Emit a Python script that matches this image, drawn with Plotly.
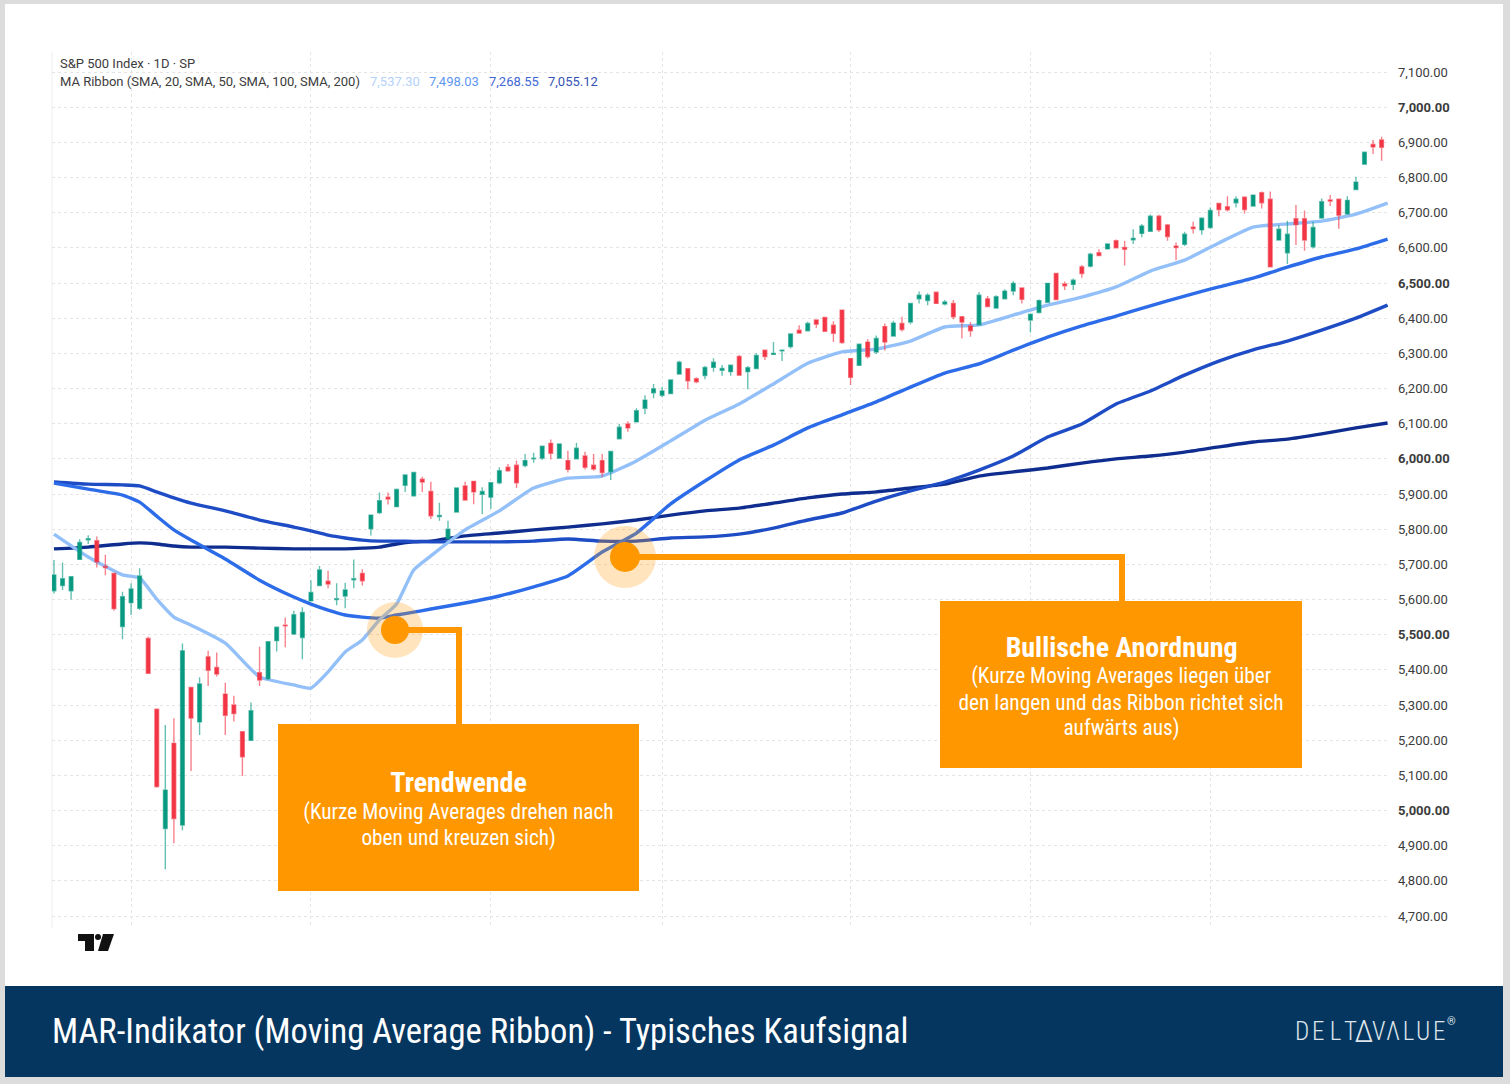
import plotly.graph_objects as go

W = 1510
H = 1084
NARROW = "Roboto, sans-serif"

# candles: open, high, low, close
opens = [5625,5640,5625,5714,5770,5767,5694,5674,5523,5591,5575,5489,5288,4949,5191,4959,5350,5252,5437,5407,5331,5300,5224,5200,5392,5375,5483,5527,5502,5492,5596,5640,5652,5600,5610,5656,5674,
         5801,5847,5891,5864,5925,5895,5942,5907,5836,5773,5849,5923,5936,5899,5891,5932,5976,5982,5981,6000,6002,6044,6002,5995,6000,6008,5982,5995,5964,6057,6099,6105,6144,6188,6181,6186,6241,6256,6228,
         6237,6260,6252,6248,6291,6248,6257,6309,6297,6307,6319,6366,6364,6395,6402,6380,6423,6285,6266,6332,6304,6376,6349,6385,6389,6455,6450,6474,6440,6442,6404,6378,6381,6455,6429,6455,6477,6486,6395,
         6416,6445,6527,6497,6496,6546,6548,6586,6597,6620,6601,6623,6641,6647,6690,6665,6605,6610,6659,6651,6658,6726,6717,6728,6744,6719,6757,6738,6622,6586,6683,6683,6603,6685,6736,6738,6696,6766,6838,6894,6907]
highs = [5712,5705,5667,5771,5783,5779,5727,5676,5622,5646,5689,5494,5288,5243,5262,5475,5350,5379,5454,5449,5363,5326,5224,5307,5466,5480,5521,5549,5568,5578,5655,5695,5682,5646,5648,5714,5686,
         5840,5904,5904,5916,5954,5963,5949,5935,5875,5824,5917,5935,5936,5919,5932,5976,5985,5995,6014,6017,6038,6055,6042,6023,6046,6020,6014,6014,6021,6099,6107,6144,6181,6213,6205,6226,6279,6258,6232,
         6264,6286,6267,6266,6295,6264,6300,6311,6332,6311,6355,6380,6390,6397,6404,6391,6423,6285,6326,6340,6351,6385,6393,6404,6442,6476,6471,6476,6452,6452,6404,6389,6474,6463,6465,6482,6505,6486,6411,
         6453,6501,6529,6504,6513,6551,6586,6596,6613,6624,6620,6653,6668,6695,6694,6668,6615,6646,6674,6687,6715,6728,6747,6747,6747,6751,6760,6760,6665,6677,6722,6706,6674,6740,6750,6738,6747,6802,6872,6907,6916]
lows = [5617,5627,5600,5712,5758,5691,5669,5568,5487,5556,5570,5390,5065,4833,4907,4944,5112,5215,5354,5381,5215,5253,5098,5200,5354,5371,5452,5464,5502,5430,5596,5640,5632,5584,5575,5632,5640,
        5782,5843,5870,5862,5906,5892,5906,5829,5824,5769,5847,5881,5871,5843,5858,5928,5963,5917,5976,5989,5997,5998,6002,5961,6000,5970,5966,5949,5940,6055,6077,6103,6127,6172,6175,6186,6241,6198,6215,
        6226,6248,6236,6236,6238,6198,6257,6281,6297,6278,6314,6357,6363,6372,6361,6332,6327,6210,6266,6285,6298,6308,6347,6362,6383,6442,6437,6440,6436,6397,6342,6347,6381,6431,6427,6454,6465,6442,6359,
        6413,6443,6451,6480,6480,6515,6544,6577,6596,6598,6550,6611,6630,6645,6645,6620,6565,6605,6641,6637,6654,6690,6703,6715,6698,6717,6712,6546,6620,6554,6608,6592,6598,6685,6719,6654,6696,6766,6838,6867,6848]
closes = [5670,5659,5665,5762,5773,5707,5691,5574,5608,5630,5667,5390,5068,5058,4977,5454,5263,5360,5399,5388,5271,5276,5153,5284,5371,5480,5521,5525,5557,5563,5620,5684,5644,5602,5627,5659,5653,
          5840,5881,5886,5913,5954,5961,5934,5838,5839,5800,5917,5883,5906,5907,5932,5966,5966,5932,5995,6002,6036,6016,6042,5970,6030,5976,5971,5961,6021,6090,6088,6137,6167,6199,6193,6224,6275,6222,6219,
          6260,6275,6257,6266,6238,6259,6294,6291,6300,6309,6355,6358,6385,6383,6363,6357,6331,6232,6326,6291,6342,6332,6386,6368,6442,6465,6465,6442,6446,6404,6389,6364,6465,6433,6461,6477,6499,6454,6411,
          6450,6499,6453,6492,6508,6527,6582,6578,6611,6600,6596,6627,6662,6690,6651,6632,6601,6639,6655,6684,6706,6709,6708,6738,6709,6750,6728,6546,6653,6639,6666,6622,6658,6731,6733,6693,6735,6787,6872,6887,6886]

# moving averages, read at these candle numbers
ma_days = [0,4,8,10,12,14,16,20,24,28,30,32,34,36,38,40,42,44,48,52,56,60,64,68,72,76,80,84,88,92,96,100,104,108,112,116,120,124,128,132,136,140,144,148,152,155.7]
sma20 = [5786,5721,5670,5661,5601,5550,5527,5476,5380,5357,5348,5394,5451,5485,5542,5587,5684,5724,5798,5852,5917,5945,5951,5994,6051,6110,6156,6213,6272,6304,6312,6335,6375,6381,6409,6437,6460,6489,6534,6565,6614,6659,6668,6676,6696,6727]
sma50 = [5931,5914,5897,5877,5837,5798,5769,5715,5655,5607,5587,5570,5556,5550,5547,5556,5564,5573,5590,5610,5636,5667,5735,5789,5872,5937,5997,6039,6088,6125,6162,6204,6244,6270,6309,6346,6378,6406,6435,6463,6489,6514,6545,6574,6597,6625]
sma100 = [5934,5928,5926,5923,5906,5889,5874,5852,5826,5806,5795,5783,5775,5769,5766,5766,5765,5764,5764,5764,5766,5772,5766,5766,5775,5778,5786,5803,5826,5846,5880,5909,5934,5968,6008,6062,6099,6156,6193,6238,6278,6310,6335,6366,6400,6437]
sma200 = [5744,5749,5758,5761,5758,5752,5749,5749,5746,5744,5744,5744,5744,5746,5749,5758,5764,5766,5781,5789,5798,5806,5815,5826,5840,5852,5860,5874,5889,5900,5906,5917,5928,5951,5963,5974,5988,6000,6008,6019,6034,6048,6056,6071,6088,6102]

price_ticks = [4700,4800,4900,5000,5100,5200,5300,5400,5500,5600,5700,5800,5900,6000,6100,6200,6300,6400,6500,6600,6700,6800,6900,7000,7100]
month_ticks = [9,30,51,71,93,114,135]
ribbon_values = ["7,537.30", "7,498.03", "7,268.55", "7,055.12"]
logo_letters = ["D", "E", "L", "T", "Δ", "V", "Λ", "L", "U", "E"]
logo_x = [1302, 1318, 1335, 1350, 1364, 1379, 1393, 1408, 1423, 1439]

days = list(range(len(opens)))
tick_labels = [f"<b>{v:,.2f}</b>" if v % 500 == 0 else f"{v:,.2f}" for v in price_ticks]


def px(x):
    return x / W


def py(y):
    return 1 - y / H


def rect(x0, y0, x1, y1, color, layer="above"):
    return dict(type="rect", xref="paper", yref="paper", x0=px(x0), y0=py(y0), x1=px(x1), y1=py(y1),
                fillcolor=color, line_width=0, layer=layer)


def circle(cx, cy, r, color):
    return dict(type="circle", xref="paper", yref="paper", x0=px(cx - r), y0=py(cy - r), x1=px(cx + r), y1=py(cy + r),
                fillcolor=color, line_width=0, layer="above")


def seg(x0, y0, x1, y1, color, width, dash="solid", layer="above"):
    return dict(type="line", xref="paper", yref="paper", x0=px(x0), y0=py(y0), x1=px(x1), y1=py(y1),
                line=dict(color=color, width=width, dash=dash), layer=layer)


def poly(points):
    path = "M " + " L ".join(f"{px(x)} {py(y)}" for x, y in points) + " Z"
    return dict(type="path", xref="paper", yref="paper", path=path, fillcolor="#111111", line_width=0, layer="above")


def label(x, y, text, size, color="white", anchor="center", font=NARROW, weight=None):
    return dict(xref="paper", yref="paper", x=px(x), y=py(y), text=text, showarrow=False, xanchor=anchor,
                yanchor="middle", font=dict(family=font, size=size, color=color, weight=weight))


fig = go.Figure()

for name, values, color in [("SMA 200", sma200, "#0f2d8f"), ("SMA 100", sma100, "#1d4cc4"),
                            ("SMA 50", sma50, "#2c6ce8"), ("SMA 20", sma20, "#93c0f8")]:
    fig.add_trace(go.Scatter(x=ma_days, y=values, mode="lines", name=name,
                             line=dict(color=color, width=3.4, shape="spline", smoothing=0.5)))

# candles on the overlay axes so they sit on top of the lines
fig.add_trace(go.Candlestick(
    x=days, open=opens, high=highs, low=lows, close=closes, name="S&P 500",
    xaxis="x2", yaxis="y2", whiskerwidth=0,
    increasing=dict(line=dict(color="rgba(8,153,129,0.62)", width=1.4), fillcolor="#089981"),
    decreasing=dict(line=dict(color="rgba(242,54,69,0.62)", width=1.4), fillcolor="#F23645"),
))

x_range = [-0.23, 155.98]
y_range = [4665.9, 7156.9]
x_domain = [px(52), px(1390)]
y_domain = [py(928), py(52)]

shapes = [
    rect(5, 4, 1503, 986, "white", layer="below"),
    rect(5, 986, 1503, 1077, "#05365f", layer="below"),
    seg(52, 52, 52, 928, "#eeeeee", 1, layer="below"),
    # callouts
    circle(395, 630, 28, "rgba(255,152,0,0.26)"),
    circle(625, 557, 31, "rgba(255,152,0,0.26)"),
    seg(395, 630, 459, 630, "#ff9800", 6),
    seg(459, 627, 459, 724, "#ff9800", 6),
    seg(625, 557, 1122, 557, "#ff9800", 6),
    seg(1122, 554, 1122, 601, "#ff9800", 6),
    circle(395, 630, 14, "#ff9800"),
    circle(625, 557, 15, "#ff9800"),
    rect(278, 724, 639, 891, "#ff9800"),
    rect(940, 601, 1302, 768, "#ff9800"),
    # tv logo
    poly([(78, 934), (94, 934), (94, 951), (85, 951), (85, 941), (78, 941)]),
    circle(98, 937, 3, "#111111"),
    poly([(103, 934), (114, 934), (108, 951), (98, 951)]),
]

annotations = [
    label(58, 63, "S&P 500 Index · 1D · SP", 13, "#3c3c3c", "left", "Roboto"),
    label(58, 82, "MA Ribbon (SMA, 20, SMA, 50, SMA, 100, SMA, 200)", 13, "#3c3c3c", "left", "Roboto"),
    label(368, 82, ribbon_values[0], 13, "#b4d2fa", "left", "Roboto"),
    label(427, 82, ribbon_values[1], 13, "#5e97f2", "left", "Roboto"),
    label(487, 82, ribbon_values[2], 13, "#3f68d6", "left", "Roboto"),
    label(546, 82, ribbon_values[3], 13, "#3553b5", "left", "Roboto"),
    label(459, 782, "<b>Trendwende</b>", 28),
    label(459, 812, "(Kurze Moving Averages drehen nach", 21.3),
    label(459, 838, "oben und kreuzen sich)", 21.3),
    label(1121, 647, "<b>Bullische Anordnung</b>", 28),
    label(1121, 676, "(Kurze Moving Averages liegen über", 21.3),
    label(1121, 702, "den langen und das Ribbon richtet sich", 21.3),
    label(1121, 728, "aufwärts aus)", 21.3),
    label(480, 1031, "MAR-Indikator (Moving Average Ribbon) - Typisches Kaufsignal", 34.6),
    label(1451, 1021, "®", 11, "#dfe5ea"),
]
for letter, x in zip(logo_letters, logo_x):
    annotations.append(label(x, 1031, letter, 31 if letter == "Δ" else 25, "#dfe5ea", weight=300))

fig.update_layout(
    width=W,
    height=H,
    margin=dict(l=0, r=0, t=0, b=0),
    paper_bgcolor="#dcdcdc",
    plot_bgcolor="rgba(0,0,0,0)",
    showlegend=False,
    shapes=shapes,
    annotations=annotations,
    boxgap=0.38,
    xaxis=dict(domain=x_domain, range=x_range, tickvals=month_ticks, showticklabels=False, ticks="",
               showgrid=True, gridcolor="#e4e4e4", griddash="dot", gridwidth=1, zeroline=False, showline=False),
    yaxis=dict(domain=y_domain, range=y_range, tickvals=price_ticks, ticktext=tick_labels, side="right",
               tickfont=dict(family="Roboto", size=13, color="#3c3c3c"), ticks="", ticklabelstandoff=7,
               showgrid=True, gridcolor="#e4e4e4", griddash="dot", gridwidth=1, zeroline=False, showline=False),
    xaxis2=dict(domain=x_domain, range=x_range, overlaying="x", anchor="y2", visible=False,
                rangeslider=dict(visible=False)),
    yaxis2=dict(domain=y_domain, range=y_range, overlaying="y", anchor="x2", visible=False),
)

# Roboto is a variable font here, so the big labels can be narrowed with font-stretch
page_css = ("document.body.style.margin='0';document.body.style.overflow='hidden';"
            "var s=document.createElement('style');"
            "s.textContent='.annotation-text[style*=\"sans-serif\"]{font-stretch:75%}';"
            "document.head.appendChild(s);")
fig.write_html("out.html", config=dict(displayModeBar=False), post_script=page_css)
